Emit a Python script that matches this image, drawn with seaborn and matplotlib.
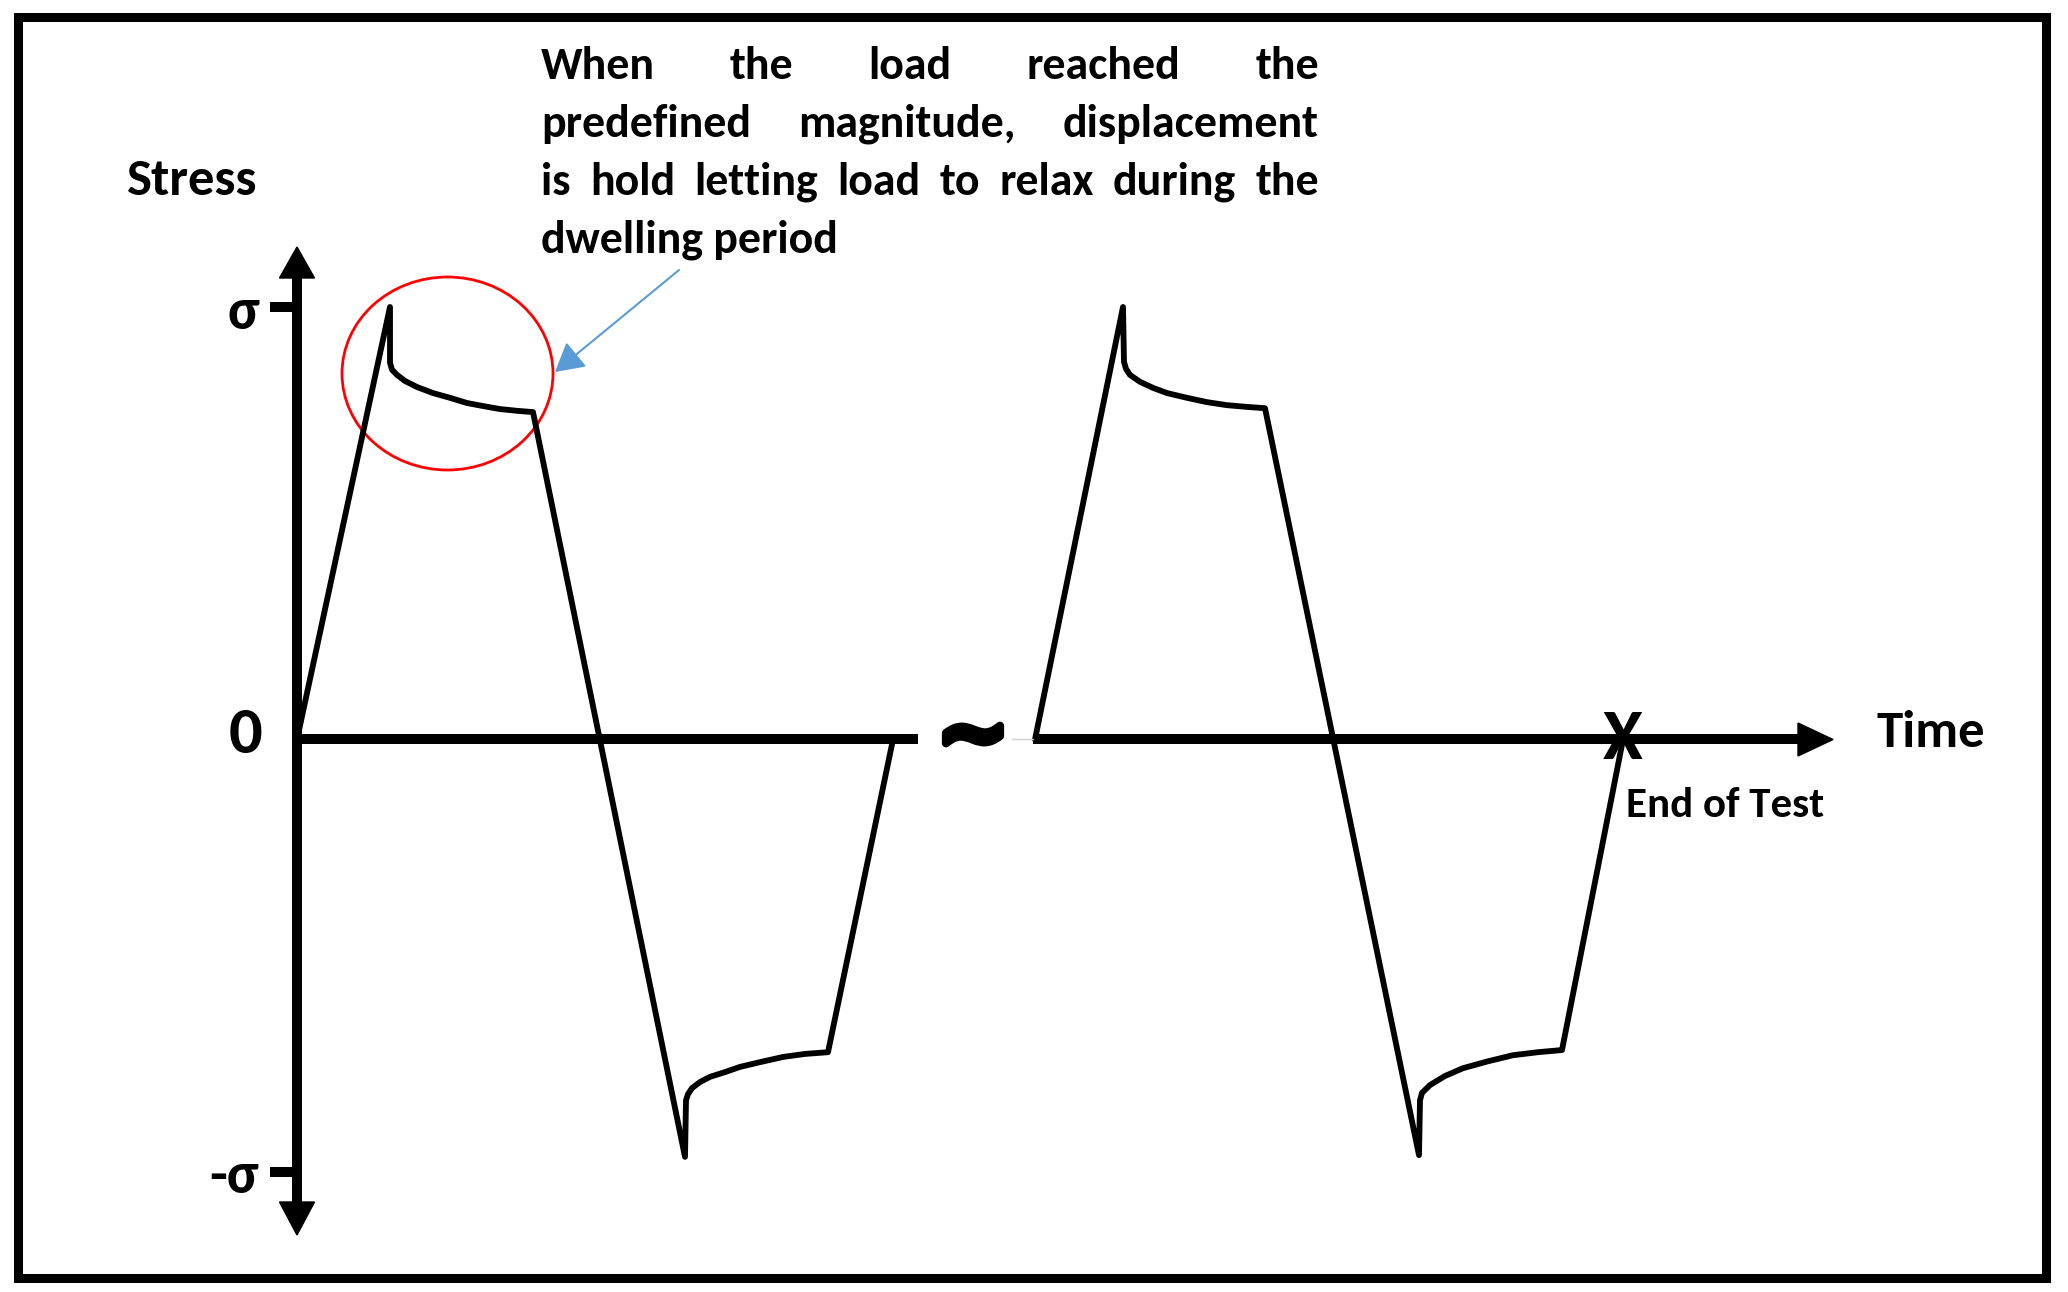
import matplotlib
matplotlib.use("Agg")
import pandas as pd
import matplotlib.pyplot as plt
import seaborn as sns
from matplotlib import font_manager
from matplotlib import patheffects
from matplotlib.patches import Ellipse, Polygon, Rectangle

# time in arbitrary units, stress normalised so that sigma = 1
cycle1_time = [0.00, 0.93, 0.93, 0.95, 1.00, 1.08, 1.20, 1.36, 1.53, 1.70, 1.86, 2.03, 2.20, 2.36,
               3.88, 3.89, 3.91, 3.95, 4.03, 4.13, 4.28, 4.43, 4.63, 4.86, 5.08, 5.31, 5.96]
cycle1_stress = [0.0, 1.0, 0.871, 0.855, 0.843, 0.829, 0.815, 0.801, 0.790, 0.778, 0.771, 0.764, 0.760, 0.757,
                 -0.965, -0.834, -0.820, -0.806, -0.792, -0.780, -0.769, -0.757, -0.746, -0.734, -0.727, -0.723, 0.0]
cycle2_time = [7.38, 8.26, 8.27, 8.29, 8.33, 8.43, 8.56, 8.70, 8.90, 9.10, 9.30, 9.50, 9.68,
               11.22, 11.23, 11.25, 11.33, 11.48, 11.66, 11.91, 12.16, 12.41, 12.65, 13.26]
cycle2_stress = [0.0, 1.0, 0.873, 0.857, 0.843, 0.827, 0.813, 0.801, 0.790, 0.780, 0.773, 0.769, 0.766,
                 -0.961, -0.834, -0.817, -0.799, -0.778, -0.760, -0.744, -0.730, -0.723, -0.718, 0.0]

stress_ticks = [1.0, 0.0, -1.0]
stress_tick_labels = ["σ", "0", "-σ"]
end_of_test = 13.26
note_lines = ["When the load reached the",
              "predefined magnitude, displacement",
              "is hold letting load to relax during the",
              "dwelling period"]

W, H = 2068, 1292
X0, Y0, YS = 297, 739.5, 432.5   # pixel position of origin, pixels per sigma


def at(px, py):
    # pixel position in the picture -> data coords
    return (px - X0) / 100, (Y0 - py) / YS


df = pd.concat([
    pd.DataFrame({"time": cycle1_time, "stress": cycle1_stress, "cycle": 1}),
    pd.DataFrame({"time": cycle2_time, "stress": cycle2_stress, "cycle": 2}),
])

sns.set_theme(style="white")
names = {f.name for f in font_manager.fontManager.ttflist}
main_font = "Carlito" if "Carlito" in names else "Lato"
plt.rcParams["font.family"] = [main_font, "DejaVu Sans"]
plt.rcParams["text.color"] = "black"

fig = plt.figure(figsize=(W / 100, H / 100), dpi=100)
ax = fig.add_axes([0, 0, 1, 1])
sns.lineplot(data=df, x="time", y="stress", units="cycle", estimator=None,
             sort=False, color="black", lw=4.2, ax=ax)
for ln in ax.get_lines():
    ln.set_solid_joinstyle("round")
ax.set_xlim(at(0, 0)[0], at(W, 0)[0])
ax.set_ylim(at(0, H)[1], at(0, 0)[1])
ax.set_axis_off()

# axes drawn by hand, with arrow heads and a break on the time axis
axw = 7.2
top_tip, top_base = at(0, 247)[1], at(0, 278)[1]
bot_tip, bot_base = at(0, 1235)[1], at(0, 1202)[1]
hw = 0.175
ax.plot([0, 0], [bot_base, top_base], color="black", lw=axw, solid_capstyle="butt")
ax.add_patch(Polygon([(0, top_tip), (-hw, top_base), (hw, top_base)], color="black"))
ax.add_patch(Polygon([(0, bot_tip), (-hw, bot_base), (hw, bot_base)], color="black"))

seg1_end = at(918, 0)[0]
seg2_start = at(1033, 0)[0]
right_base, right_tip = at(1798, 0)[0], at(1833, 0)[0]
ax.plot([0, seg1_end], [0, 0], color="black", lw=axw, solid_capstyle="butt")
ax.plot([seg2_start, right_base], [0, 0], color="black", lw=axw, solid_capstyle="butt")
ax.plot([at(1012, 0)[0], seg2_start], [0, 0], color="#d0d0d0", lw=1)
vh = 16.5 / YS
ax.add_patch(Polygon([(right_tip, 0), (right_base, vh), (right_base, -vh)], color="black"))
ax.text(*at(973, 738), "~", ha="center", va="center", fontsize=62,
        fontweight="bold", family="DejaVu Sans",
        path_effects=[patheffects.withStroke(linewidth=6, foreground="black")])

for s in (1.0, -1.0):
    ax.plot([-0.27, 0], [s, s], color="black", lw=axw, solid_capstyle="butt")

label_px = {"σ": (243, 313, 42), "0": (245, 735, 48), "-σ": (234, 1177, 42)}
for s, lab in zip(stress_ticks, stress_tick_labels):
    px, py, fs = label_px[lab]
    ax.text(*at(px, py), lab, ha="center", va="center", fontsize=fs, fontweight="bold")

ax.text(*at(191, 181), "Stress", ha="center", va="center", fontsize=38, fontweight="bold")
ax.text(*at(1876, 733), "Time", ha="left", va="center", fontsize=38, fontweight="bold")
ax.text(end_of_test, 0, "X", ha="center", va="center", fontsize=52, fontweight="bold")
ax.text(*at(1626, 806), "End of Test", ha="left", va="center", fontsize=31,
        fontweight="semibold")

# dwell highlight and note
cx, cy = at(447.5, 373.5)
ax.add_patch(Ellipse((cx, cy), 2.11, 193 / YS, fill=False, edgecolor="red", lw=2))
ax.annotate("", xy=at(555, 372), xytext=at(679, 270),
            arrowprops=dict(arrowstyle="-|>,head_length=0.8,head_width=0.45",
                            color="#5B9BD5", lw=1.5, mutation_scale=22,
                            shrinkA=0, shrinkB=0))

fig.canvas.draw()
r = fig.canvas.get_renderer()
left, right = 541, 1319
baselines = [79, 137, 195, 253]
probe = fig.text(0, 0, note_lines[2], fontsize=33, fontweight="bold")
fs_note = min(33, 33 * (right - left) / probe.get_window_extent(r).width * 0.995)
probe.remove()
for i, line in enumerate(note_lines):
    y = 1 - baselines[i] / H
    if i == len(note_lines) - 1:
        fig.text(left / W, y, line, fontsize=fs_note, fontweight="bold", va="baseline")
        continue
    words = line.split()
    tt = [fig.text(0, y, w_, fontsize=fs_note, fontweight="bold", va="baseline") for w_ in words]
    widths = [t.get_window_extent(r).width for t in tt]
    gap = (right - left - sum(widths)) / (len(words) - 1)
    x = left
    for t, w_ in zip(tt, widths):
        t.set_x(x / W)
        x += w_ + gap

# picture frame
fig.add_artist(Rectangle((17.5 / W, 1 - 1277.5 / H), 2028 / W, 1261 / H,
                         transform=fig.transFigure, fill=False,
                         edgecolor="black", lw=6.5))

fig.savefig("out.png", dpi=100)
